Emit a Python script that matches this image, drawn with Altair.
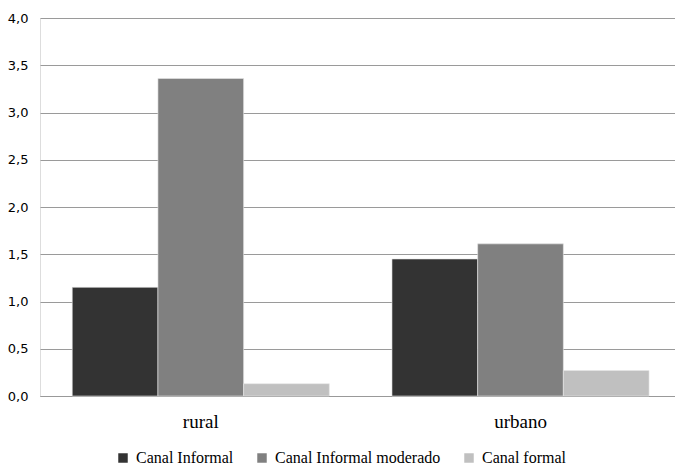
import altair as alt
import pandas as pd

# Categories, series and values
zones = ["rural", "urbano"]
series = ["Canal Informal", "Canal Informal moderado", "Canal formal"]
canal_informal = [1.15, 1.45]
canal_informal_moderado = [3.36, 1.61]
canal_formal = [0.13, 0.27]
colors = ["#333333", "#808080", "#c0c0c0"]
y_ticks = [0, 0.5, 1.0, 1.5, 2.0, 2.5, 3.0, 3.5, 4.0]

rows = []
for values, name in zip([canal_informal, canal_informal_moderado, canal_formal], series):
    for zone, v in zip(zones, values):
        rows.append({"zona": zone, "serie": name, "valor": v})
df = pd.DataFrame(rows)

serif = "'Liberation Serif', 'Times New Roman', serif"

chart = (
    alt.Chart(df)
    .mark_bar(stroke="#e6e6e6", strokeWidth=0.6)
    .encode(
        x=alt.X(
            "zona:N",
            sort=zones,
            title=None,
            scale=alt.Scale(paddingInner=0.196, paddingOuter=0.091, align=0.554),
            axis=alt.Axis(
                labelAngle=0,
                labelFont=serif,
                labelFontSize=19,
                labelColor="#000000",
                labelPadding=16,
                ticks=False,
                domainColor="#999999",
                domainWidth=1.2,
            ),
        ),
        xOffset=alt.XOffset("serie:N", sort=series),
        y=alt.Y(
            "valor:Q",
            title=None,
            scale=alt.Scale(domain=[0, 4]),
            axis=alt.Axis(
                values=y_ticks,
                labelExpr="replace(format(datum.value, '.1f'), '.', ',')",
                labelFont="DejaVu Sans",
                labelFontSize=13,
                labelColor="#000000",
                labelPadding=12,
                ticks=False,
                domain=False,
                gridColor="#9a9a9a",
                gridWidth=1,
            ),
        ),
        color=alt.Color(
            "serie:N",
            sort=series,
            scale=alt.Scale(domain=series, range=colors),
            legend=alt.Legend(
                title=None,
                orient="none",
                direction="horizontal",
                legendX=75,
                legendY=432,
                symbolType="square",
                symbolSize=90,
                symbolStrokeWidth=0,
                labelFont=serif,
                labelFontSize=16,
                labelColor="#000000",
                labelLimit=0,
                columnPadding=20,
                labelOffset=5,
            ),
        ),
    )
    .properties(
        width=635,
        height=378,
        autosize=alt.AutoSizeParams(type="none"),
        padding={"left": 40, "top": 18, "right": 0, "bottom": 70},
    )
    .configure_view(stroke=None)
    .configure(background="white")
)

chart.save("out.html", embed_options={"renderer": "svg", "actions": False})
